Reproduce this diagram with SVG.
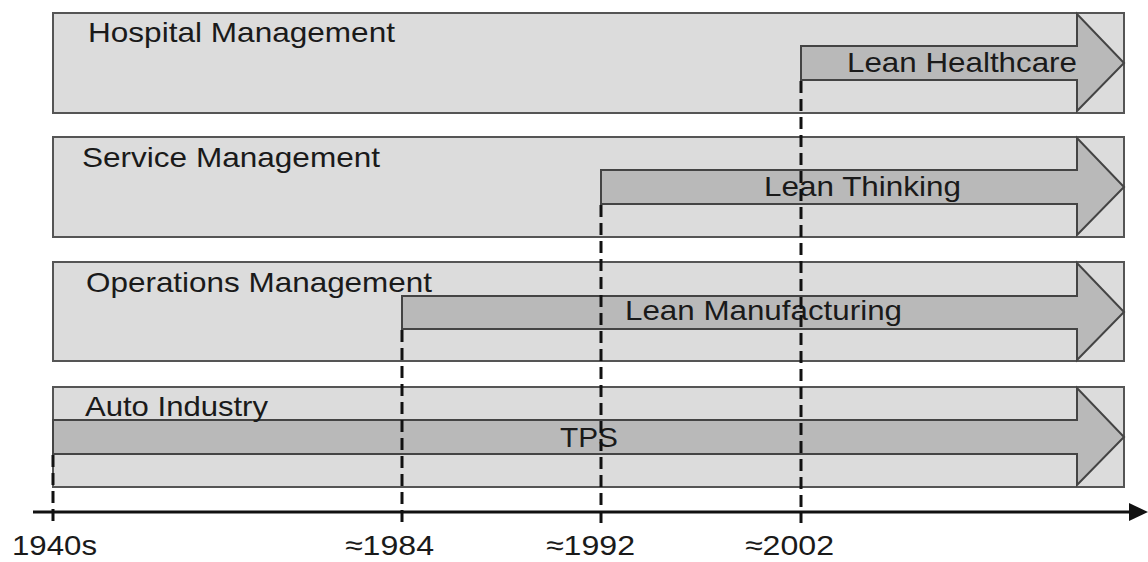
<svg xmlns="http://www.w3.org/2000/svg" width="1148" height="562" viewBox="0 0 1148 562">
  <defs>
    <style>
      .lane { fill: #dcdcdc; stroke: #555555; stroke-width: 2; }
      .arrow { fill: #b9b9b9; stroke: #444444; stroke-width: 2; stroke-linejoin: miter; }
      .t { font-family: "Liberation Sans", Arial, sans-serif; font-size: 28px; fill: #1a1a1a; }
      .dash { stroke: #111111; stroke-width: 3; stroke-dasharray: 12 6; fill: none; }
      .axis { stroke: #111111; stroke-width: 3; fill: none; }
    </style>
  </defs>
  <rect x="0" y="0" width="1148" height="562" fill="#ffffff"/>

  <g id="hospital">
    <rect class="lane" x="53" y="13" width="1071" height="100"/>
    <polygon class="arrow" points="801,46 1077,46 1077,14 1124,63 1077,111 1077,80 801,80"/>
    <text class="t" x="88" y="42" textLength="307" lengthAdjust="spacingAndGlyphs">Hospital Management</text>
    <text class="t" x="847" y="72" textLength="230" lengthAdjust="spacingAndGlyphs">Lean Healthcare</text>
  </g>

  <g id="service">
    <rect class="lane" x="53" y="137" width="1071" height="100"/>
    <polygon class="arrow" points="601,170 1077,170 1077,138 1124,187 1077,235 1077,204 601,204"/>
    <text class="t" x="82" y="167" textLength="298" lengthAdjust="spacingAndGlyphs">Service Management</text>
    <text class="t" x="764" y="196" textLength="197" lengthAdjust="spacingAndGlyphs">Lean Thinking</text>
  </g>

  <g id="operations">
    <rect class="lane" x="53" y="262" width="1071" height="99"/>
    <polygon class="arrow" points="402,296 1077,296 1077,263 1124,312 1077,360 1077,329 402,329"/>
    <text class="t" x="86" y="292" textLength="346" lengthAdjust="spacingAndGlyphs">Operations Management</text>
    <text class="t" x="625" y="320" textLength="277" lengthAdjust="spacingAndGlyphs">Lean Manufacturing</text>
  </g>

  <g id="auto">
    <rect class="lane" x="53" y="387" width="1071" height="100"/>
    <polygon class="arrow" points="53,420 1077,420 1077,388 1124,437 1077,485 1077,454 53,454"/>
    <text class="t" x="85" y="416" textLength="183" lengthAdjust="spacingAndGlyphs">Auto Industry</text>
    <text class="t" x="560" y="447" textLength="58" lengthAdjust="spacingAndGlyphs">TPS</text>
  </g>

  <g id="connectors">
    <line class="dash" x1="53" y1="455" x2="53" y2="523"/>
    <line class="dash" x1="402" y1="330" x2="402" y2="523"/>
    <line class="dash" x1="601" y1="205" x2="601" y2="523"/>
    <line class="dash" x1="801" y1="81" x2="801" y2="523"/>
    <line class="axis" x1="33" y1="512" x2="1132" y2="512"/>
    <polygon points="1129,503 1148,512 1129,521" fill="#111111"/>
  </g>

  <g id="labels">
    <text class="t" x="12" y="555" textLength="85" lengthAdjust="spacingAndGlyphs">1940s</text>
    <text class="t" x="345" y="555" textLength="89" lengthAdjust="spacingAndGlyphs">≈1984</text>
    <text class="t" x="546" y="555" textLength="89" lengthAdjust="spacingAndGlyphs">≈1992</text>
    <text class="t" x="745" y="555" textLength="89" lengthAdjust="spacingAndGlyphs">≈2002</text>
  </g>
</svg>
